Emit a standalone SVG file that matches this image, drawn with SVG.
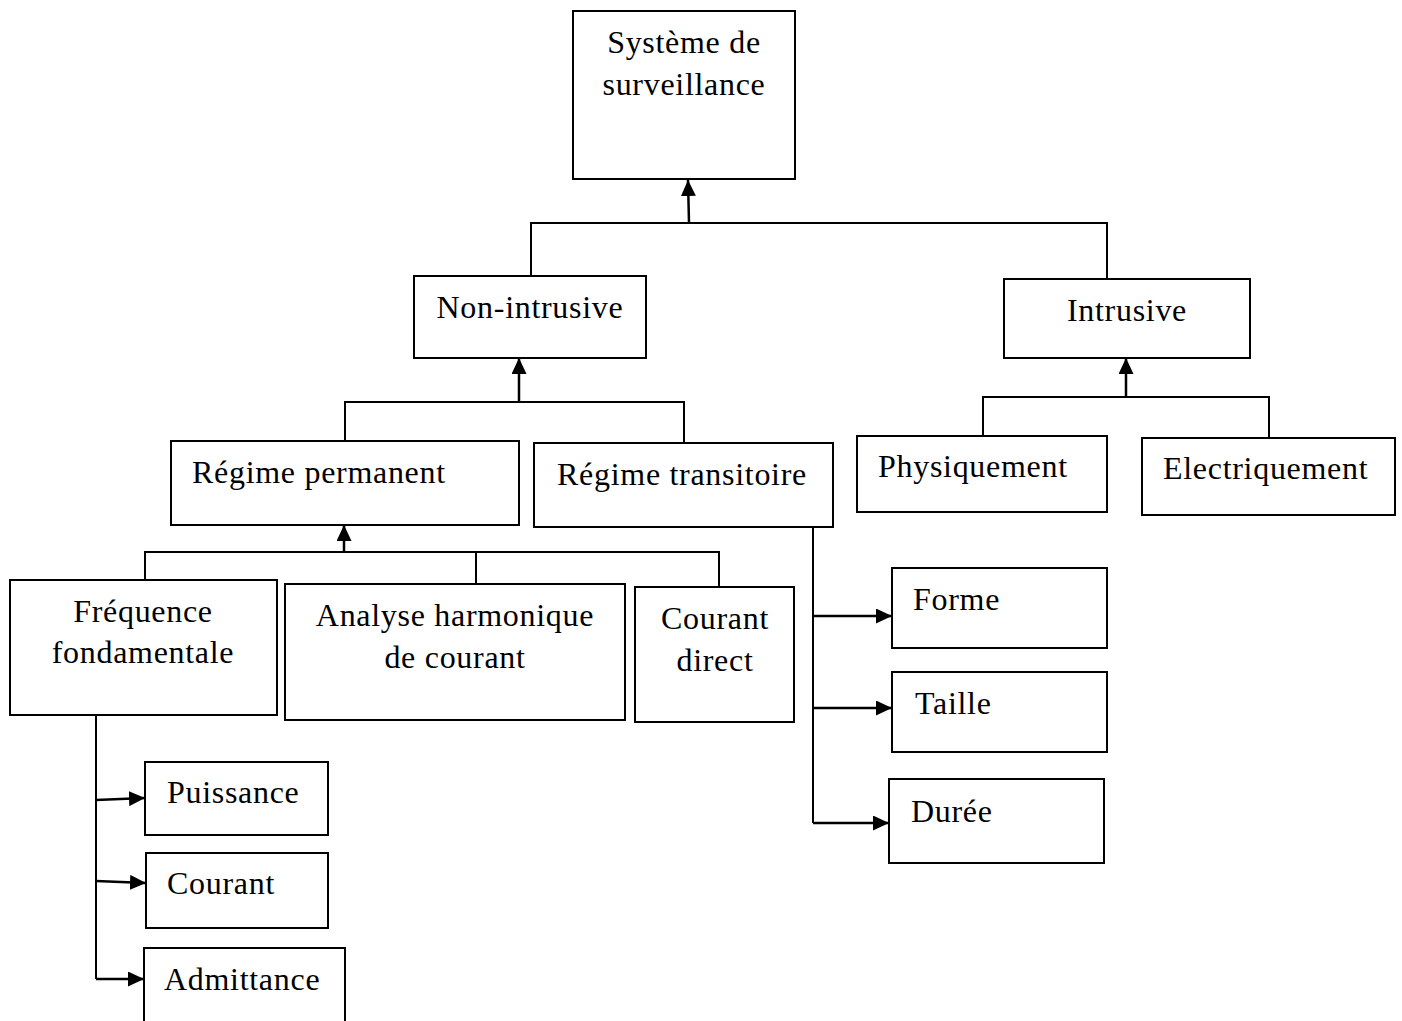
<svg xmlns="http://www.w3.org/2000/svg" width="1402" height="1021" viewBox="0 0 1402 1021">
<style>
.box{fill:#fff;stroke:#000;stroke-width:2}
.t{font-family:"Liberation Serif","DejaVu Serif",serif;font-size:32px;letter-spacing:0.7px;fill:#000}
.c{text-anchor:middle}
.ln{fill:none;stroke:#000;stroke-width:2}
.ar{fill:none;stroke:#000;stroke-width:2.5;marker-end:url(#ah)}
</style>
<defs>
<marker id="ah" viewBox="0 0 16 15" refX="16" refY="7.5" markerWidth="16" markerHeight="15" markerUnits="userSpaceOnUse" orient="auto">
<path d="M0,0 L16,7.5 L0,15 z" fill="#000"/>
</marker>
</defs>
<rect width="1402" height="1021" fill="#fff"/>
<g id="connectors">
<path class="ar" d="M689,223 L688,180"/>
<path class="ln" d="M531,278 V223 H1107 V279"/>
<path class="ar" d="M519,402 V358"/>
<path class="ln" d="M345,441 V402 H684 V443"/>
<path class="ar" d="M1126,397 V358"/>
<path class="ln" d="M983,436 V397 H1269 V438"/>
<path class="ar" d="M344,552 V525"/>
<path class="ln" d="M145,580 V552 H719 V587"/>
<path class="ln" d="M476,552 V584"/>
<path class="ln" d="M96,715 V979"/>
<path class="ar" d="M96,979 H144"/>
<path class="ar" d="M96,800 L145,798"/>
<path class="ar" d="M96,881 L146,883"/>
<path class="ln" d="M813,527 V823"/>
<path class="ar" d="M813,823 H889"/>
<path class="ar" d="M813,616 H892"/>
<path class="ar" d="M813,708 H892"/>
</g>
<g id="systeme"><rect class="box" x="573" y="11" width="222" height="168"/><text class="t c" x="684" y="53">Système de</text><text class="t c" x="684" y="95">surveillance</text></g>
<g id="non-intrusive"><rect class="box" x="414" y="276" width="232" height="82"/><text class="t c" x="530" y="318">Non-intrusive</text></g>
<g id="intrusive"><rect class="box" x="1004" y="279" width="246" height="79"/><text class="t c" x="1127" y="321">Intrusive</text></g>
<g id="regime-permanent"><rect class="box" x="171" y="441" width="348" height="84"/><text class="t" x="192" y="483">Régime permanent</text></g>
<g id="regime-transitoire"><rect class="box" x="534" y="443" width="299" height="84"/><text class="t c" x="682" y="485">Régime transitoire</text></g>
<g id="physiquement"><rect class="box" x="857" y="436" width="250" height="76"/><text class="t" x="878" y="477">Physiquement</text></g>
<g id="electriquement"><rect class="box" x="1142" y="438" width="253" height="77"/><text class="t" x="1163" y="479">Electriquement</text></g>
<g id="frequence"><rect class="box" x="10" y="580" width="267" height="135"/><text class="t c" x="143" y="622">Fréquence</text><text class="t c" x="143" y="663">fondamentale</text></g>
<g id="analyse"><rect class="box" x="285" y="584" width="340" height="136"/><text class="t c" x="455" y="626">Analyse harmonique</text><text class="t c" x="455" y="668">de courant</text></g>
<g id="courant-direct"><rect class="box" x="635" y="587" width="159" height="135"/><text class="t c" x="715" y="629">Courant</text><text class="t c" x="715" y="671">direct</text></g>
<g id="puissance"><rect class="box" x="145" y="762" width="183" height="73"/><text class="t" x="167" y="803">Puissance</text></g>
<g id="courant"><rect class="box" x="146" y="853" width="182" height="75"/><text class="t" x="167" y="894">Courant</text></g>
<g id="admittance"><rect class="box" x="144" y="948" width="201" height="90"/><text class="t" x="164" y="990">Admittance</text></g>
<g id="forme"><rect class="box" x="892" y="568" width="215" height="80"/><text class="t" x="913" y="610">Forme</text></g>
<g id="taille"><rect class="box" x="892" y="672" width="215" height="80"/><text class="t" x="915" y="714">Taille</text></g>
<g id="duree"><rect class="box" x="889" y="779" width="215" height="84"/><text class="t" x="911" y="822">Durée</text></g>
</svg>
